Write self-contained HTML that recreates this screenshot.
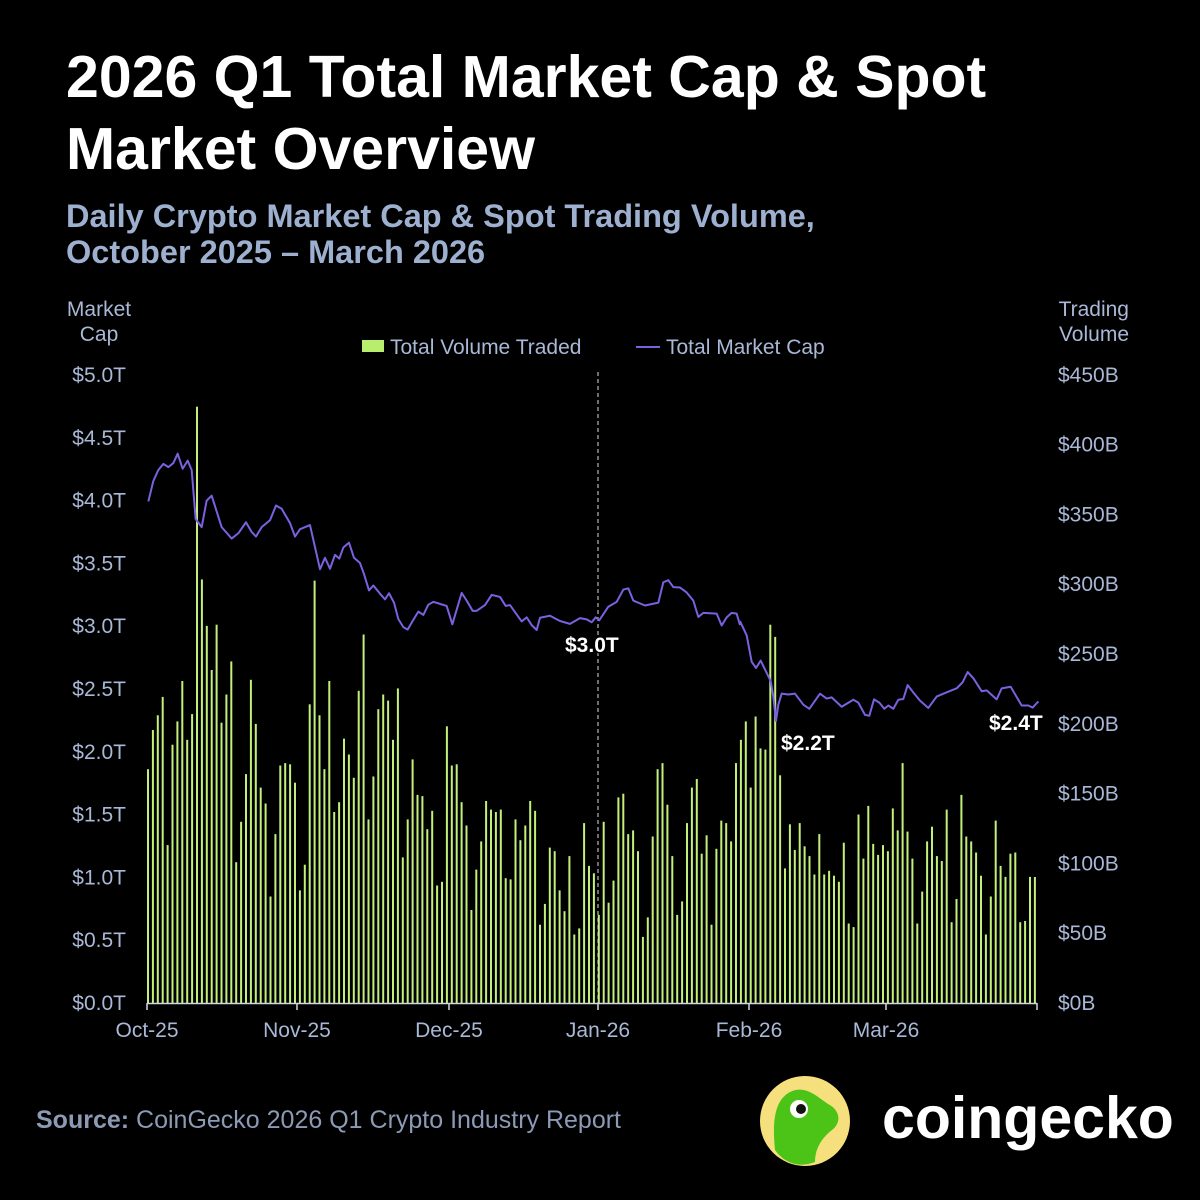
<!DOCTYPE html>
<html><head><meta charset="utf-8"><style>
html,body{margin:0;padding:0;background:#000;}
svg{display:block;}
text{font-family:"Liberation Sans",sans-serif;}
</style></head><body>
<svg id="s" width="1200" height="1200" viewBox="0 0 1200 1200" xmlns="http://www.w3.org/2000/svg">
<rect width="1200" height="1200" fill="#000"/>
<text x="66" y="97" font-size="59" font-weight="bold" fill="#fff">2026 Q1 Total Market Cap &amp; Spot</text>
<text x="66" y="169" font-size="59" font-weight="bold" fill="#fff">Market Overview</text>
<text x="66" y="227" font-size="32.5" font-weight="bold" fill="#9eb0cf">Daily Crypto Market Cap &amp; Spot Trading Volume,</text>
<text x="66" y="263" font-size="32.5" font-weight="bold" fill="#9eb0cf">October 2025 – March 2026</text>

<g font-size="21" fill="#a9b8d6">
<text x="99" y="316" text-anchor="middle">Market</text>
<text x="99" y="341" text-anchor="middle">Cap</text>
<text x="1129" y="316" text-anchor="end">Trading</text>
<text x="1129" y="341" text-anchor="end">Volume</text>
<rect x="362" y="340" width="22" height="12" fill="#b8ee6e"/>
<text x="390" y="354">Total Volume Traded</text>
<line x1="636" y1="347" x2="660" y2="347" stroke="#7b61e0" stroke-width="2"/>
<text x="666" y="354">Total Market Cap</text>
</g>
<g font-size="21" fill="#a9b8d6" text-anchor="end" id="ly"></g>
<g font-size="21" fill="#a9b8d6" id="ry"></g>
<g id="bars" fill="#c2f07a"></g>
<line x1="598" y1="372" x2="598" y2="1003" stroke="#ddd" stroke-width="1" stroke-dasharray="4,3"/>
<g transform="translate(140,370) scale(0.33333,0.40816)">
<polyline fill="none" stroke="#7b61e0" stroke-width="2" vector-effect="non-scaling-stroke" stroke-linejoin="round" points="25,322 40,272 55,245 70,230 85,238 100,228 113,205 128,242 143,222 155,245 167,365 185,385 200,320 215,308 245,385 275,413 295,400 318,373 335,397 348,408 365,385 390,368 408,332 425,340 450,375 465,408 480,390 510,380 540,488 555,460 570,487 585,453 598,462 610,435 627,423 642,460 660,473 672,500 687,540 700,528 720,548 735,562 747,547 762,570 775,610 790,630 803,636 820,612 835,592 850,600 865,575 880,568 900,573"/>
</g>
<g transform="translate(440,370) scale(0.33333,0.40816)">
<polyline fill="none" stroke="#7b61e0" stroke-width="2" vector-effect="non-scaling-stroke" stroke-linejoin="round" points="0,573 20,578 37,623 65,546 80,565 98,590 110,590 135,576 155,551 180,556 197,578 210,576 245,616 260,606 275,625 290,637 300,607 330,602 360,615 390,622 420,608 440,611 455,618 467,606 478,613 505,580 530,568 550,538 565,535 580,565 615,577 655,570 670,520 685,515 700,532 720,533 740,545 760,565 775,605 790,595 830,597 845,626 860,606 875,595 890,597 900,625"/>
</g>
<g transform="translate(740,370) scale(0.33333,0.40816)">
<polyline fill="none" stroke="#7b61e0" stroke-width="2" vector-effect="non-scaling-stroke" stroke-linejoin="round" points="0,615 20,650 35,715 48,730 62,712 92,762 100,800 108,860 115,820 125,793 145,795 165,793 190,820 208,830 240,793 260,805 275,802 305,825 340,808 355,815 375,845 388,847 402,807 418,815 433,830 445,822 460,830 475,808 490,806 503,772 520,790 540,810 565,828 590,800 610,793 650,780 668,765 683,740 700,755 725,787 740,785 770,807 785,780 812,776 845,822 865,822 878,827 895,812"/>
</g>
<g font-size="21" font-weight="bold" fill="#fff" stroke="#000" stroke-width="3" paint-order="stroke">
<text x="565" y="652">$3.0T</text>
<text x="781" y="750">$2.2T</text>
<text x="989" y="730">$2.4T</text>
</g>
<line x1="147" y1="1003.5" x2="1037" y2="1003.5" stroke="#cfd6e4" stroke-width="1.5"/>
<g stroke="#cfd6e4" stroke-width="1.5">
<line x1="147" y1="1003" x2="147" y2="1010"/><line x1="297" y1="1003" x2="297" y2="1010"/><line x1="449" y1="1003" x2="449" y2="1010"/><line x1="598" y1="1003" x2="598" y2="1010"/><line x1="749" y1="1003" x2="749" y2="1010"/><line x1="886" y1="1003" x2="886" y2="1010"/><line x1="1037" y1="1003" x2="1037" y2="1010"/>
</g>
<g font-size="21" fill="#a9b8d6" text-anchor="middle">
<text x="147" y="1037">Oct-25</text><text x="297" y="1037">Nov-25</text><text x="449" y="1037">Dec-25</text><text x="598" y="1037">Jan-26</text><text x="749" y="1037">Feb-26</text><text x="886" y="1037">Mar-26</text>
</g>
<text x="36" y="1128" font-size="25" fill="#8c9ab5"><tspan font-weight="bold">Source:</tspan> CoinGecko 2026 Q1 Crypto Industry Report</text>
<circle cx="805" cy="1121" r="45" fill="#f6e07e"/>
<path d="M775,1150 C772,1120 775,1100 790,1092 C805,1085 815,1095 828,1104 C840,1110 842,1122 832,1130 C822,1138 815,1148 815,1162 C800,1168 785,1164 775,1150 Z" fill="#4cc417"/>
<circle cx="799" cy="1109" r="9" fill="#fff"/><circle cx="801" cy="1109" r="5" fill="#111"/>
<text x="882" y="1138" font-size="59" font-weight="bold" fill="#fff">coingecko</text>
</svg>
<script>
(function(){
var ns="http://www.w3.org/2000/svg";
function el(p,t,a,txt){var e=document.createElementNS(ns,t);for(var k in a)e.setAttribute(k,a[k]);if(txt)e.textContent=txt;document.getElementById(p).appendChild(e);}
var L=["$0.0T","$0.5T","$1.0T","$1.5T","$2.0T","$2.5T","$3.0T","$3.5T","$4.0T","$4.5T","$5.0T"];
for(var i=0;i<11;i++){var y=1003-i*62.8+7;el("ly","text",{x:126,y:y},L[i]);}
for(var i=0;i<10;i++){var y=1003-i*69.8+7;el("ry","text",{x:1058,y:y},"$"+(i*50)+"B");}
var t=[696,664,652,637,758,676,657,624,672,651,400,541,579,615,578,658,635,608,772,739,700,623,659,711,724,800,749,693,691,692,707,795,774,643,542,652,696,624,731,723,671,684,703,632,586,737,702,647,635,640,672,630,768,737,688,717,718,745,730,791,788,661,693,692,723,742,811,778,755,722,729,731,729,785,786,737,754,742,722,730,823,806,760,763,795,812,767,831,826,740,775,781,815,739,805,787,719,716,749,746,763,833,817,751,696,691,725,767,815,804,740,711,704,765,750,823,761,738,740,755,691,672,657,711,653,679,680,578,588,701,777,741,762,740,759,767,782,749,782,779,783,788,756,822,825,733,769,726,757,766,758,763,728,746,691,747,769,822,796,755,743,767,771,729,821,802,717,751,755,764,783,831,800,738,775,784,765,764,821,820,784,900];
for(var i=0;i<t.length;i++){var x=148+i*4.9;var tp=370+(t[i]-370)*1.2245;if(tp>1003)tp=877;el("bars","rect",{x:(x-1).toFixed(1),y:tp.toFixed(1),width:2,height:(1003-tp).toFixed(1)});}
})();
</script>
</body></html>
